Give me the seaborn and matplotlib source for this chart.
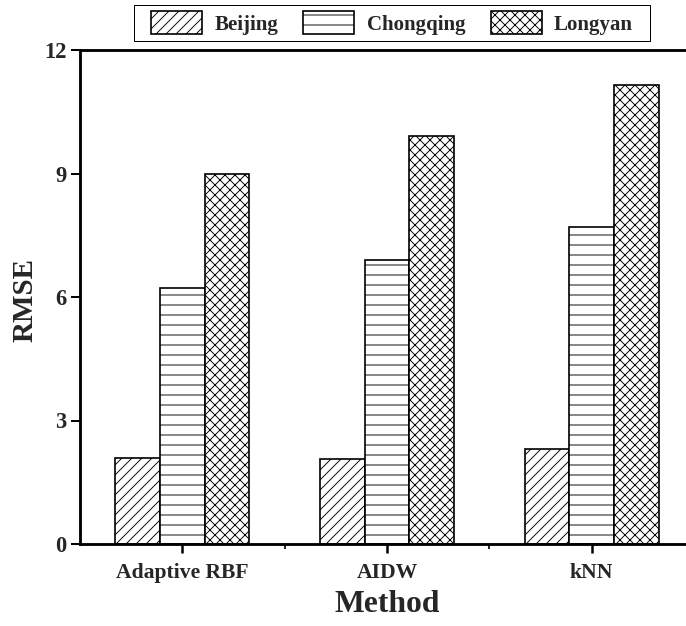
import numpy as np
import pandas as pd
import matplotlib
matplotlib.use("Agg")
import matplotlib.pyplot as plt
import seaborn as sns
from matplotlib.ticker import FixedLocator
from matplotlib.patches import Rectangle

# ---- data ----
methods = ["Adaptive RBF", "AIDW", "kNN"]
cities = ["Beijing", "Chongqing", "Longyan"]
beijing = [2.10, 2.07, 2.31]
chongqing = [6.22, 6.90, 7.70]
longyan = [8.98, 9.91, 11.15]
y_ticks = [0, 3, 6, 9, 12]

df = pd.DataFrame({
    "Method": methods * 3,
    "City": [c for c in cities for _ in methods],
    "RMSE": beijing + chongqing + longyan,
})

sns.set_style("ticks")
plt.rcParams["font.family"] = ["Liberation Serif", "DejaVu Serif"]
plt.rcParams["font.weight"] = "bold"
plt.rcParams["axes.labelweight"] = "bold"
plt.rcParams["hatch.linewidth"] = 1.1
plt.rcParams["hatch.color"] = "black"

DPI = 60
fig = plt.figure(figsize=(686 / DPI, 626 / DPI), dpi=DPI)
ax = fig.add_axes([80 / 686, 82 / 626, 614 / 686, 494 / 626])

sns.barplot(data=df, x="Method", y="RMSE", hue="City", order=methods,
            hue_order=cities, palette=["white"] * 3, edgecolor="black",
            linewidth=2.0, width=0.655, saturation=1, legend=False, ax=ax)

hatches = ["//", "-", "xx"]
for cont, h in zip(ax.containers, hatches):
    for bar in cont:
        bar.set_hatch(h)
        bar.set_facecolor("white")
        bar.set_edgecolor("black")

ax.set_xlim(-0.5, 2.5)
ax.set_ylim(0, 12)
ax.yaxis.set_major_locator(FixedLocator(y_ticks))
ax.set_yticklabels([str(t) for t in y_ticks])
ax.xaxis.set_minor_locator(FixedLocator([0.5, 1.5]))

for side in ["left", "bottom", "top"]:
    ax.spines[side].set_linewidth(3.4)
    ax.spines[side].set_color("black")
ax.spines["right"].set_visible(False)

ax.tick_params(axis="x", which="major", direction="out", length=11,
               width=3, labelsize=26, color="black", pad=12)
ax.tick_params(axis="x", which="minor", direction="out", length=6, width=2.4)
ax.tick_params(axis="y", which="major", direction="out", length=11,
               width=2.4, labelsize=27, color="black", pad=5)
for lab in ax.get_xticklabels() + ax.get_yticklabels():
    lab.set_fontweight("bold")

ax.set_xlabel("Method", fontsize=38, fontweight="bold", va="center")
ax.set_ylabel("RMSE", fontsize=35, fontweight="bold", va="center")
ax.xaxis.set_label_coords(0.5, (544 - 605) / 494)
ax.yaxis.set_label_coords((25 - 80) / 614, (544 - 300) / 494)

handles = [cont for cont in ax.containers]
leg = fig.legend(handles, cities, loc="upper center",
                 bbox_to_anchor=(392 / 686, 1 - 5 / 626), ncol=3,
                 frameon=False, fontsize=25,
                 handlelength=2.45, handleheight=1.3, handletextpad=0.6,
                 columnspacing=1.2, borderpad=0.3, borderaxespad=0)
for t in leg.get_texts():
    t.set_fontweight("bold")

# legend frame with wider horizontal padding
fig.canvas.draw()
bb = leg.get_window_extent()
W, H = fig.bbox.width, fig.bbox.height
padx = 11
frame = Rectangle(((bb.x0 - padx) / W, bb.y0 / H), (bb.width + 2 * padx) / W,
                  bb.height / H, transform=fig.transFigure, fill=False,
                  edgecolor="black", linewidth=1.2, zorder=5)
fig.patches.append(frame)

fig.savefig("out.png", dpi=DPI)
